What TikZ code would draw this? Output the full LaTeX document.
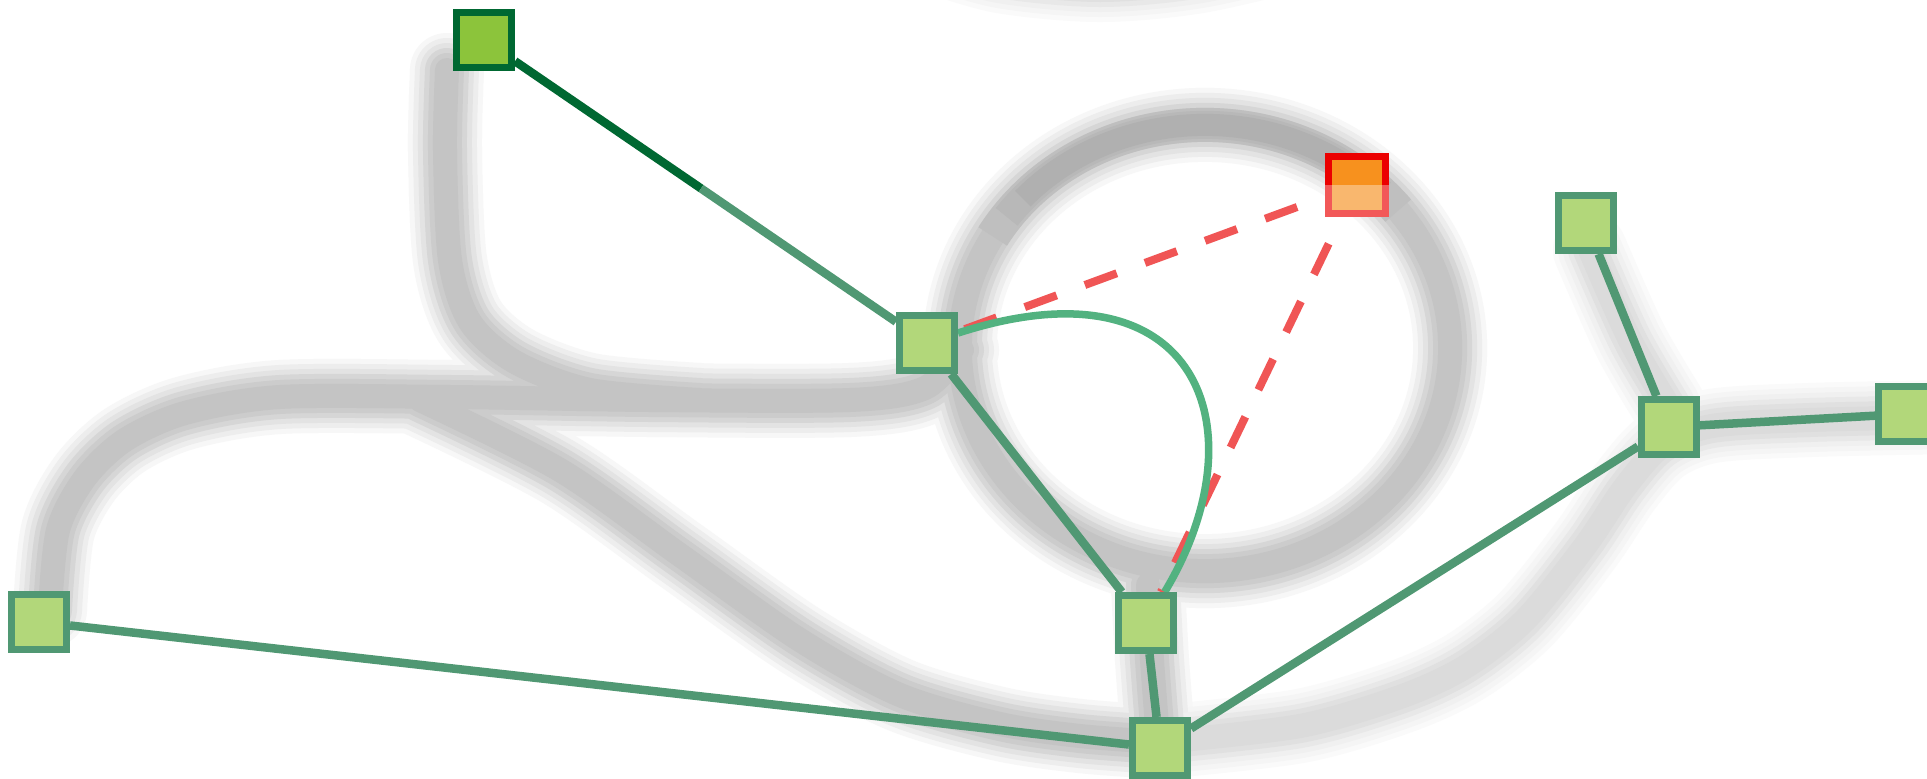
\documentclass[tikz,border=0pt]{standalone}
\usetikzlibrary{calc,backgrounds}
\definecolor{nfill}{RGB}{178,215,122}
\definecolor{nedge}{RGB}{80,152,115}
\definecolor{afill}{RGB}{140,196,59}
\definecolor{aedge}{RGB}{0,104,50}
\definecolor{curvecol}{RGB}{82,178,128}
\definecolor{dashcol}{RGB}{240,85,85}
\definecolor{fred}{RGB}{235,0,0}
\definecolor{fredl}{RGB}{242,88,88}
\definecolor{forange}{RGB}{247,145,30}
\definecolor{forangel}{RGB}{249,183,110}
\begin{document}
\begin{tikzpicture}[x=0.01cm,y=-0.01cm,
 station/.style={rectangle, draw=nedge, fill=nfill, line width=0.07cm, minimum size=0.55cm, inner sep=0pt},
 topstation/.style={station, draw=aedge, fill=afill},
 linkedge/.style={draw=nedge, line width=0.085cm},
 darklink/.style={draw=aedge, line width=0.085cm},
 arcedge/.style={draw=curvecol, line width=0.075cm},
 dashlink/.style={draw=dashcol, line width=0.08cm, dash pattern=on 0.34cm off 0.30cm, dash phase=0.34cm},
 roadline/.style={line cap=round, line join=round}
]
\useasboundingbox (0,0) rectangle (1927,779);
% nodes
\node[topstation] (A) at (484,40) {};
\node[station] (B) at (927,343) {};
\node[station] (C) at (1146,623) {};
\node[station] (D) at (1160,748) {};
\node[station] (E) at (39,622) {};
\node[station] (G) at (1586,223) {};
\node[station] (H) at (1669,427) {};
\node[station] (I) at (1906,414) {};
\node[minimum size=0.62cm, inner sep=0pt] (F) at (1357,185) {};
\fill[fred] (F.north west) rectangle (F.east);
\fill[fredl] (F.west) rectangle (F.south east);
\fill[forange] ([shift={(0.07cm,-0.07cm)}]F.north west) rectangle ([shift={(-0.07cm,0cm)}]F.east);
\fill[forangel] ([shift={(0.07cm,0cm)}]F.west) rectangle ([shift={(-0.07cm,0.07cm)}]F.south east);
\coordinate (mAB) at ($(A)!0.49!(B)$);
\begin{scope}[on background layer]
\fill[white] (0,0) rectangle (1927,779);
% blurred gray track
\foreach \w/\c/\l in {74/3/2,64/7/4,54/11/6,44/16/9,34/20/12,24/23/14} {
  \draw[roadline, line width=0.\w cm, black!\l]
    plot[smooth] coordinates {(1160,742) (1300,726) (1400,697) (1465,667) (1525,620) (1585,546) (1625,487) (1662,446) (1712,426) (1810,420) (1950,417)}
    plot[smooth] coordinates {(1590,250) (1630,340) (1668,405)}
    plot[smooth] coordinates {(920,-48) (1000,-24) (1100,-15) (1200,-24) (1320,-52)};
  \draw[roadline, line width=0.\w cm, black!\c]
    plot[smooth] coordinates {(50,610) (58,530) (85,478) (125,440) (185,413) (280,397) (450,397) (650,400) (850,400) (925,388) (962,350)}
    plot[smooth] coordinates {(447,70) (445,150) (450,260) (470,322) (515,362) (590,390) (700,400)}
    plot[smooth] coordinates {(420,400) (560,470) (680,555) (800,640) (900,695) (1000,724) (1080,736) (1160,742)}
    plot[smooth] coordinates {(1148,585) (1152,660) (1158,738)}
    (1205,348) ellipse [x radius=2.45cm, y radius=2.23cm];
}
\foreach \s/\e/\w/\k in {150/38/34/25,144/44/28/28,138/50/22/31}
  \draw[line cap=butt, line width=0.\w cm, black!\k] ([shift={(\s:2.45cm and 2.23cm)}]1205,348) arc[start angle=\s, end angle=\e, x radius=2.45cm, y radius=2.23cm];
% dashed red connectors
\draw[dashlink] (F) -- (B);
\draw[dashlink] (F) -- (C);
% green connectors
\draw[darklink] (A) -- (mAB);
\draw[linkedge] (mAB) -- (B);
\draw[linkedge] (B) -- (C);
\draw[linkedge] (C) -- (D);
\draw[linkedge] (E) -- (D);
\draw[linkedge] (D) -- (H);
\draw[linkedge] (G) -- (H);
\draw[linkedge] (H) -- (I);
\draw[arcedge] (B) .. controls (1200,255) and (1262,430) .. (C);
\end{scope}
\end{tikzpicture}
\end{document}
